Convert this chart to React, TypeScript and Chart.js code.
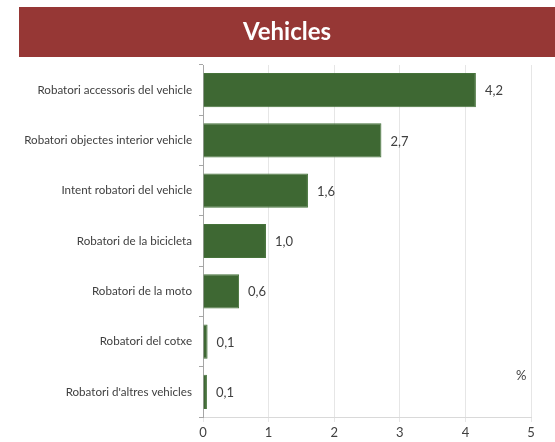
import React, { useEffect, useRef } from "react";
import { Chart, registerables } from "chart.js";

Chart.register(...registerables);

const categories = [
  "Robatori accessoris del vehicle",
  "Robatori objectes interior vehicle",
  "Intent robatori del vehicle",
  "Robatori de la bicicleta",
  "Robatori de la moto",
  "Robatori del cotxe",
  "Robatori d'altres vehicles",
];
const values = [4.16, 2.72, 1.6, 0.96, 0.55, 0.07, 0.06];
const xTicks = [0, 1, 2, 3, 4, 5];
const title = "Vehicles";
const unitLabel = "%";

const FONT = "Lato, 'Open Sans', sans-serif";
const TEXT = "#404040";

const fmt = (v: number) => v.toFixed(1).replace(".", ",");

const bannerPlugin = {
  id: "banner",
  beforeDraw(chart: any) {
    const ctx = chart.ctx;
    ctx.save();
    ctx.fillStyle = "#963735";
    ctx.fillRect(19, 7, chart.width - 19, 50);
    ctx.fillStyle = "#ffffff";
    ctx.font = `bold 24px ${FONT}`;
    ctx.textAlign = "center";
    ctx.textBaseline = "middle";
    ctx.fillText(title, (19 + chart.width) / 2, 32);
    ctx.restore();
  },
};

const labelsPlugin = {
  id: "valueLabels",
  afterDatasetsDraw(chart: any) {
    const ctx = chart.ctx;
    const meta = chart.getDatasetMeta(0);
    ctx.save();
    ctx.fillStyle = TEXT;
    ctx.font = `13px ${FONT}`;
    ctx.textAlign = "left";
    ctx.textBaseline = "middle";
    meta.data.forEach((bar: any, i: number) => {
      ctx.fillText(fmt(values[i]), bar.x + 9, bar.y + 1);
    });
    const xs = chart.scales.x;
    const ca = chart.chartArea;
    ctx.textAlign = "center";
    ctx.fillText(unitLabel, xs.getPixelForValue(4.85), ca.bottom - 41);
    ctx.restore();
  },
};

export default function App() {
  const ref = useRef<HTMLCanvasElement | null>(null);
  useEffect(() => {
    document.body.style.margin = "0";
    const chart = new Chart(ref.current as HTMLCanvasElement, {
      type: "bar",
      data: {
        labels: categories,
        datasets: [
          {
            data: values,
            backgroundColor: "#3E6833",
            borderColor: "#46733B",
            borderWidth: 1,
            barPercentage: 0.68,
            categoryPercentage: 1,
          },
        ],
      },
      options: {
        indexAxis: "y",
        animation: false,
        responsive: false,
        devicePixelRatio: 1,
        layout: { padding: { top: 65, right: 24, bottom: 0, left: 0 } },
        plugins: {
          legend: { display: false },
          tooltip: { enabled: false },
          title: { display: false },
        },
        scales: {
          x: {
            min: 0,
            max: 5,
            afterBuildTicks: (scale: any) => {
              scale.ticks = xTicks.map((v) => ({ value: v }));
            },
            afterFit: (scale: any) => {
              scale.height = 25;
            },
            grid: { color: "#e6e6e6", tickLength: 5, lineWidth: 1 },
            border: { color: "#d9d9d9" },
            ticks: {
              color: TEXT,
              font: { family: FONT, size: 13 },
              padding: 3,
              callback: (v: any) => String(v),
            },
          },
          y: {
            afterFit: (scale: any) => {
              scale.width = 203;
            },
            grid: {
              drawOnChartArea: false,
              offset: true,
              tickLength: 4,
              color: "#a6a6a6",
            },
            border: { color: "#a6a6a6" },
            ticks: {
              color: TEXT,
              font: { family: FONT, size: 11.6 },
              padding: 7,
            },
          },
        },
      },
      plugins: [bannerPlugin, labelsPlugin],
    } as any);
    return () => chart.destroy();
  }, []);
  return (
    <div style={{ width: 555, height: 442 }}>
      <canvas ref={ref} width={555} height={442} style={{ display: "block" }} />
    </div>
  );
}
